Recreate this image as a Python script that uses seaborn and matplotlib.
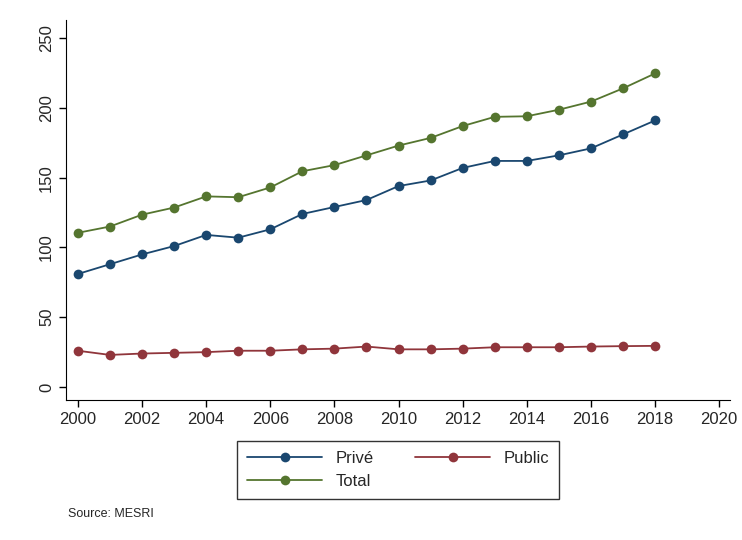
import pandas as pd
import seaborn as sns
import matplotlib
matplotlib.use("Agg")
import matplotlib.pyplot as plt

years = list(range(2000, 2019))
prive = [81, 88, 95, 101, 109, 107, 113, 124, 129, 134, 144, 148, 157, 162, 162, 166, 171, 181, 191]
public = [26, 23, 24, 24.5, 25, 26, 26, 27, 27.5, 29, 27, 27, 27.5, 28.5, 28.5, 28.5, 29, 29.3, 29.5]
total = [110.5, 115, 123.5, 128.6, 136.6, 136, 143, 154.6, 159, 166, 173, 178.5, 187, 193.6, 194, 198.7, 204.5, 214, 224.7]

df = pd.DataFrame({"year": years, "Privé": prive, "Public": public, "Total": total})
long = df.melt(id_vars="year", var_name="serie", value_name="val")

sns.set_style("white")
plt.rcParams["font.family"] = ["Liberation Sans", "DejaVu Sans"]

fig = plt.figure(figsize=(7.42, 5.4), dpi=100)
ax = fig.add_axes([0.089, 0.259, 0.895, 0.704])
palette = {"Privé": "#1a476f", "Public": "#90353b", "Total": "#55752f"}
sns.lineplot(data=long, x="year", y="val", hue="serie", palette=palette,
             marker="o", markersize=7, markeredgewidth=0, linewidth=1.3, ax=ax)

ax.set_xlim(1999.63, 2020.34)
ax.set_ylim(-9.4, 263)
ax.set_xticks(range(2000, 2021, 2))
ax.set_yticks(range(0, 251, 50))
for lbl in ax.get_yticklabels():
    lbl.set_rotation(90)
    lbl.set_va("center")
ax.tick_params(axis="both", labelsize=12, length=5, width=1, color="black",
               direction="out", bottom=True, left=True)
ax.set_xlabel("")
ax.set_ylabel("")
sns.despine(ax=ax)
ax.spines["left"].set_color("black")
ax.spines["bottom"].set_color("black")

h, l = ax.get_legend_handles_labels()
order = [0, 2, 1]  # Privé, Total (col 1), Public (col 2)
ax.legend([h[i] for i in order], [l[i] for i in order], loc="upper center",
          bbox_to_anchor=(0.5, -0.085), ncol=2,
          frameon=True, fancybox=False, edgecolor="black", fontsize=12,
          handlelength=4.5, columnspacing=2.5, borderpad=0.6, labelspacing=0.5)

fig.text(0.092, 0.043, "Source: MESRI", fontsize=9)
fig.savefig("out.png", dpi=100)
